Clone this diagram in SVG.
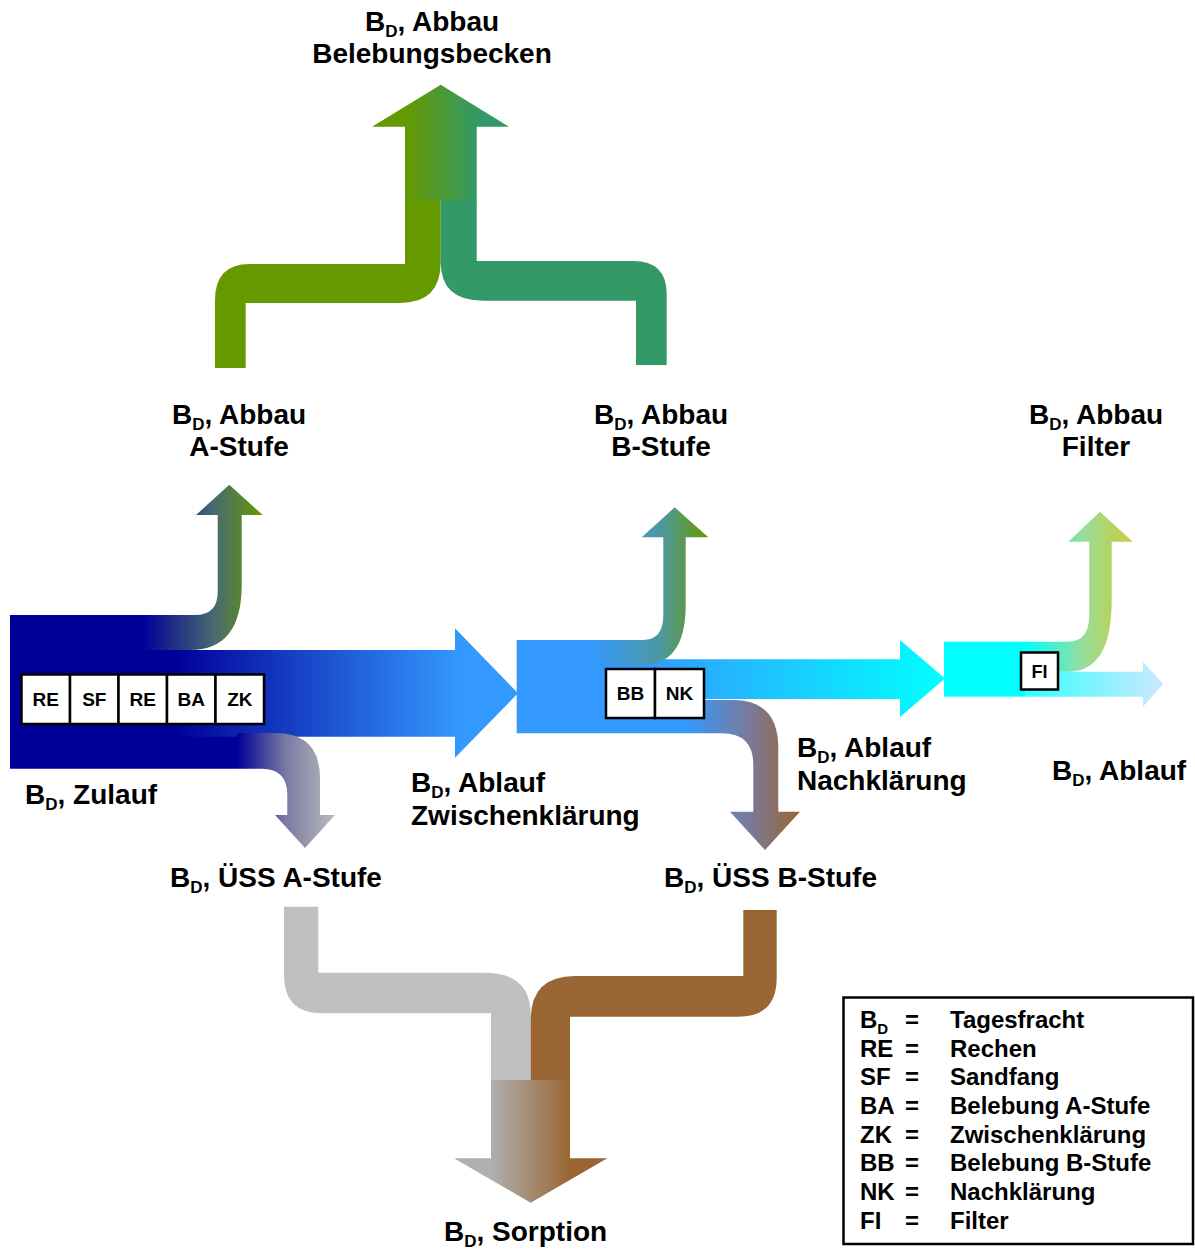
<svg xmlns="http://www.w3.org/2000/svg" width="1195" height="1252" viewBox="0 0 1195 1252">
<style>
.lbl{font-family:"Liberation Sans",Arial,sans-serif;font-weight:bold;font-size:28px;fill:#000}
.sub{font-size:17px}
.cell{fill:#fff;stroke:#000;stroke-width:2.5}
.ct{font-family:"Liberation Sans",Arial,sans-serif;font-weight:bold;font-size:19px;fill:#000;text-anchor:middle}
.lg{font-family:"Liberation Sans",Arial,sans-serif;font-weight:bold;font-size:24px;fill:#000}
.lgs{font-size:15px}
</style>
<defs>
<linearGradient id="gTop" gradientUnits="userSpaceOnUse" x1="405" y1="0" x2="477" y2="0"><stop offset="0" stop-color="#669900"/><stop offset="1" stop-color="#339966"/></linearGradient>
<linearGradient id="gMainA" gradientUnits="userSpaceOnUse" x1="175" y1="0" x2="460" y2="0"><stop offset="0" stop-color="#000099"/><stop offset="1" stop-color="#3399ff"/></linearGradient>
<linearGradient id="gUpA" gradientUnits="userSpaceOnUse" x1="143" y1="0" x2="262" y2="0"><stop offset="0" stop-color="#000099"/><stop offset="0.6" stop-color="#486a70"/><stop offset="1" stop-color="#669900"/></linearGradient>
<linearGradient id="gDownA" gradientUnits="userSpaceOnUse" x1="237" y1="0" x2="335" y2="0"><stop offset="0" stop-color="#000099"/><stop offset="0.5" stop-color="#7a7aa4"/><stop offset="1" stop-color="#bbbbbb"/></linearGradient>
<linearGradient id="gMainB" gradientUnits="userSpaceOnUse" x1="640" y1="0" x2="945" y2="0"><stop offset="0" stop-color="#3399ff"/><stop offset="1" stop-color="#00ffff"/></linearGradient>
<linearGradient id="gUpB" gradientUnits="userSpaceOnUse" x1="590" y1="0" x2="708" y2="0"><stop offset="0" stop-color="#3399ff"/><stop offset="0.6" stop-color="#4d99a0"/><stop offset="1" stop-color="#669900"/></linearGradient>
<linearGradient id="gDownB" gradientUnits="userSpaceOnUse" x1="687" y1="0" x2="800" y2="0"><stop offset="0" stop-color="#3399ff"/><stop offset="0.55" stop-color="#7a7a9a"/><stop offset="1" stop-color="#996633"/></linearGradient>
<linearGradient id="gUpF" gradientUnits="userSpaceOnUse" x1="1025" y1="0" x2="1133" y2="0"><stop offset="0" stop-color="#00ffff"/><stop offset="0.55" stop-color="#99dd99"/><stop offset="1" stop-color="#cccc33"/></linearGradient>
<linearGradient id="gAbl" gradientUnits="userSpaceOnUse" x1="1025" y1="0" x2="1163" y2="0"><stop offset="0" stop-color="#33ffff"/><stop offset="1" stop-color="#cce8ff"/></linearGradient>
<linearGradient id="gSorp" gradientUnits="userSpaceOnUse" x1="491" y1="0" x2="570" y2="0"><stop offset="0" stop-color="#b0b0b0"/><stop offset="1" stop-color="#996633"/></linearGradient>
</defs>

<g id="connectors">
  <path d="M215,368 L215,300 Q215,264 250,264 L405,264 L405,200 L440.7,200 L440.7,262 Q440.7,303 400,303 L245.7,303 L245.7,368 Z" fill="#669900"/>
  <path d="M440.7,200 L476.7,200 L476.7,261 L633,261 Q666.7,261 666.7,294 L666.7,365 L636,365 L636,300.7 L483,300.7 Q440.7,300.7 440.7,262 Z" fill="#339966"/>
  <path d="M405,200.5 L405,126.7 L372,126.7 L440.7,84.7 L509,126.7 L476.7,126.7 L476.7,200.5 Z" fill="url(#gTop)"/>

  <path d="M10,615 L150,615 L150,650 L237,650 L237,768.7 L10,768.7 Z" fill="#000099"/>
  <path d="M175,650 L455,650 L455,628.3 L518,693.3 L455,757.7 L455,736.7 L175,736.7 Z" fill="url(#gMainA)"/>
  <path d="M143,615 L195,615 Q217.7,615 217.7,592 L217.7,515 L196,515 L229.3,484.7 L262.7,515 L241.7,515 L241.7,585 Q241.7,650 190,650 L143,650 Z" fill="url(#gUpA)"/>
  <path d="M237,733 L275,733 Q320,733 320,778 L320,815 L335,815 L305,848 L275,815 L287.3,815 L287.3,795 Q287.3,768.7 262,768.7 L237,768.7 Z" fill="url(#gDownA)"/>

  <path d="M516.7,640 L600,640 L600,699 L687,699 L687,733.3 L516.7,733.3 Z" fill="#3399ff"/>
  <path d="M595,659.3 L900,659.3 L900,640 L945,678.5 L900,717 L900,699 L595,699 Z" fill="url(#gMainB)"/>
  <path d="M590,640 L643,640 Q663.3,640 663.3,615 L663.3,537.3 L641.7,537.3 L674.7,507.3 L708.3,537.3 L685.7,537.3 L685.7,605 Q685.7,665 642,665 L590,665 Z" fill="url(#gUpB)"/>
  <path d="M687,700 L733,700 Q778.3,700 778.3,748 L778.3,811.7 L800,811.7 L765,850 L730,811.7 L753.3,811.7 L753.3,765 Q753.3,733.3 722,733.3 L687,733.3 Z" fill="url(#gDownB)"/>

  <rect x="944" y="641.7" width="82" height="55" fill="#00ffff"/>
  <path d="M1025,671.7 L1143,671.7 L1143,661.7 L1163.3,684 L1143,706.7 L1143,696.7 L1025,696.7 Z" fill="url(#gAbl)"/>
  <path d="M1025,641.7 L1068,641.7 Q1089.3,641.7 1089.3,615 L1089.3,541.7 L1068.3,541.7 L1100,511.7 L1132.7,541.7 L1111.7,541.7 L1111.7,600 Q1111.7,671.7 1068,671.7 L1025,671.7 Z" fill="url(#gUpF)"/>

  <path d="M284,906.7 L318.3,906.7 L318.3,972.7 L485,972.7 Q530.7,972.7 530.7,1015 L530.7,1080.5 L491,1080.5 L491,1013.3 L322,1013.3 Q284,1013.3 284,975 Z" fill="#c0c0c0"/>
  <path d="M743.3,910 L776.7,910 L776.7,978 Q776.7,1016.7 738,1016.7 L570,1016.7 L570,1080.5 L530.7,1080.5 L530.7,1020 Q530.7,976 575,976 L743.3,976 Z" fill="#996633"/>
  <path d="M491,1080 L570,1080 L570,1158.3 L607.3,1158.3 L530.7,1202.7 L454,1158.3 L491,1158.3 Z" fill="url(#gSorp)"/>
</g>

<g id="units-A">
  <rect class="cell" x="21.5" y="674.5" width="48.5" height="49.5"/>
  <rect class="cell" x="70" y="674.5" width="48.5" height="49.5"/>
  <rect class="cell" x="118.5" y="674.5" width="48.5" height="49.5"/>
  <rect class="cell" x="167" y="674.5" width="48.5" height="49.5"/>
  <rect class="cell" x="215.5" y="674.5" width="48.5" height="49.5"/>
  <text class="ct" x="45.8" y="706">RE</text>
  <text class="ct" x="94.3" y="706">SF</text>
  <text class="ct" x="142.8" y="706">RE</text>
  <text class="ct" x="191.3" y="706">BA</text>
  <text class="ct" x="239.8" y="706">ZK</text>
</g>
<g id="units-B">
  <rect class="cell" x="606" y="669" width="49" height="49"/>
  <rect class="cell" x="655" y="669" width="49" height="49"/>
  <text class="ct" x="630.5" y="700">BB</text>
  <text class="ct" x="679.5" y="700">NK</text>
</g>
<g id="unit-FI">
  <rect class="cell" x="1021" y="652.5" width="37" height="37"/>
  <text class="ct" x="1039.5" y="677.5" style="font-size:18px">FI</text>
</g>

<g id="labels">
  <text class="lbl" x="432" y="31" text-anchor="middle">B<tspan class="sub" dy="6">D</tspan><tspan dy="-6">, Abbau</tspan></text>
  <text class="lbl" x="432" y="63" text-anchor="middle">Belebungsbecken</text>
  <text class="lbl" x="239" y="424" text-anchor="middle">B<tspan class="sub" dy="6">D</tspan><tspan dy="-6">, Abbau</tspan></text>
  <text class="lbl" x="239" y="456" text-anchor="middle">A-Stufe</text>
  <text class="lbl" x="661" y="424" text-anchor="middle">B<tspan class="sub" dy="6">D</tspan><tspan dy="-6">, Abbau</tspan></text>
  <text class="lbl" x="661" y="456" text-anchor="middle">B-Stufe</text>
  <text class="lbl" x="1096" y="424" text-anchor="middle">B<tspan class="sub" dy="6">D</tspan><tspan dy="-6">, Abbau</tspan></text>
  <text class="lbl" x="1096" y="456" text-anchor="middle">Filter</text>
  <text class="lbl" x="25" y="804">B<tspan class="sub" dy="6">D</tspan><tspan dy="-6">, Zulauf</tspan></text>
  <text class="lbl" x="411" y="792">B<tspan class="sub" dy="6">D</tspan><tspan dy="-6">, Ablauf</tspan></text>
  <text class="lbl" x="411" y="825">Zwischenklärung</text>
  <text class="lbl" x="797" y="757">B<tspan class="sub" dy="6">D</tspan><tspan dy="-6">, Ablauf</tspan></text>
  <text class="lbl" x="797" y="790">Nachklärung</text>
  <text class="lbl" x="1052" y="780">B<tspan class="sub" dy="6">D</tspan><tspan dy="-6">, Ablauf</tspan></text>
  <text class="lbl" x="170" y="887">B<tspan class="sub" dy="6">D</tspan><tspan dy="-6">, ÜSS A-Stufe</tspan></text>
  <text class="lbl" x="664" y="887">B<tspan class="sub" dy="6">D</tspan><tspan dy="-6">, ÜSS B-Stufe</tspan></text>
  <text class="lbl" x="444" y="1241">B<tspan class="sub" dy="6">D</tspan><tspan dy="-6">, Sorption</tspan></text>
</g>

<g id="legend">
  <rect x="843.5" y="997.5" width="349.5" height="246.5" fill="#fff" stroke="#000" stroke-width="2.5"/>
  <text class="lg" x="860" y="1028">B<tspan class="lgs" dy="6">D</tspan></text>
  <text class="lg" x="860" y="1056.7">RE</text>
  <text class="lg" x="860" y="1085.3">SF</text>
  <text class="lg" x="860" y="1114">BA</text>
  <text class="lg" x="860" y="1142.7">ZK</text>
  <text class="lg" x="860" y="1171.3">BB</text>
  <text class="lg" x="860" y="1200">NK</text>
  <text class="lg" x="860" y="1228.7">FI</text>
  <text class="lg" x="905" y="1028">=</text>
  <text class="lg" x="905" y="1056.7">=</text>
  <text class="lg" x="905" y="1085.3">=</text>
  <text class="lg" x="905" y="1114">=</text>
  <text class="lg" x="905" y="1142.7">=</text>
  <text class="lg" x="905" y="1171.3">=</text>
  <text class="lg" x="905" y="1200">=</text>
  <text class="lg" x="905" y="1228.7">=</text>
  <text class="lg" x="950" y="1028">Tagesfracht</text>
  <text class="lg" x="950" y="1056.7">Rechen</text>
  <text class="lg" x="950" y="1085.3">Sandfang</text>
  <text class="lg" x="950" y="1114">Belebung A-Stufe</text>
  <text class="lg" x="950" y="1142.7">Zwischenklärung</text>
  <text class="lg" x="950" y="1171.3">Belebung B-Stufe</text>
  <text class="lg" x="950" y="1200">Nachklärung</text>
  <text class="lg" x="950" y="1228.7">Filter</text>
</g>
</svg>
